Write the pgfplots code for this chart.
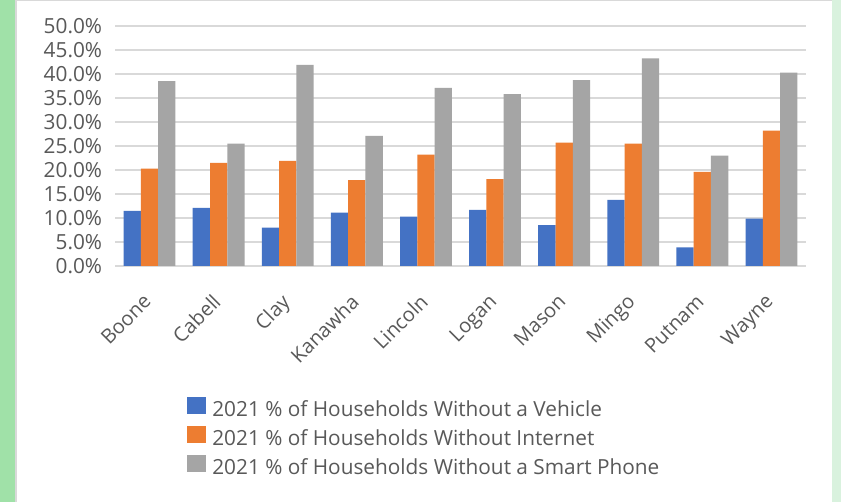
\documentclass[border=0pt]{standalone}
\usepackage{pgfplots}
\pgfplotsset{compat=1.18}
\usepackage{fontspec}
\setmainfont{Open Sans}
\definecolor{cblue}{HTML}{4472C4}
\definecolor{corange}{HTML}{ED7D31}
\definecolor{cgray}{HTML}{A5A5A5}
\definecolor{gridc}{HTML}{D9D9D9}
\definecolor{txt}{HTML}{595959}
\definecolor{lgreen}{HTML}{A0E1A8}
\definecolor{rgreen}{HTML}{D9F2DE}
\begin{document}
\begin{tikzpicture}
\useasboundingbox (0,0) rectangle (630.75pt,376.5pt);
\fill[white] (0,0) rectangle (630.75pt,376.5pt);
\fill[lgreen] (0,0) rectangle (11.25pt,376.5pt);
\fill[gridc] (11.25pt,0) rectangle (12.75pt,376.5pt);
\fill[rgreen] (624pt,0) rectangle (630.75pt,376.5pt);
\draw[gridc, line width=1pt] (12.75pt,376pt) -- (624pt,376pt);
\begin{axis}[
  at={(86.25pt,177pt)}, anchor=south west,
  scale only axis, width=518.25pt, height=180pt,
  xmin=-0.5, xmax=9.5, ymin=0, ymax=50,
  axis line style={draw=none},
  major tick length=0pt,
  ymajorgrids, major grid style={gridc, line width=1.1pt},
  ytick={0,5,...,50},
  yticklabels={0.0\%,5.0\%,10.0\%,15.0\%,20.0\%,25.0\%,30.0\%,35.0\%,40.0\%,45.0\%,50.0\%},
  xtick={0,...,9},
  xticklabels={Boone,Cabell,Clay,Kanawha,Lincoln,Logan,Mason,Mingo,Putnam,Wayne},
  tick label style={font=\fontsize{15.6}{18}\selectfont, text=txt},
  yticklabel style={anchor=east, inner sep=0pt, xshift=-9.5pt},
  xticklabel style={font=\fontsize{15}{18}\selectfont, xshift=-5.6pt, yshift=-19.9pt, rotate=45, anchor=north east, inner sep=0pt},
  ybar, bar width=0.25,
  legend cell align=left,
  legend style={at={(0.0975,-0.535)}, anchor=north west, draw=none, fill=none,
    font=\fontsize{15.6}{18}\selectfont, text=txt, row sep=4.2pt,
    nodes={inner sep=0pt, anchor=west, text height=10.5pt, text depth=3pt},
    /tikz/every odd column/.append style={column sep=5pt}},
  legend image code/.code={\fill[#1] (0pt,-2pt) rectangle (14.25pt,10.75pt);},
]
\addplot[fill=cblue, draw=none, bar shift=-0.25] coordinates {
(0,11.5) (1,12.1) (2,8.0) (3,11.1) (4,10.3) (5,11.7) (6,8.5) (7,13.8) (8,3.9) (9,9.85)};
\addplot[fill=corange, draw=none, bar shift=0] coordinates {
(0,20.3) (1,21.5) (2,21.9) (3,17.9) (4,23.2) (5,18.1) (6,25.7) (7,25.5) (8,19.6) (9,28.2)};
\addplot[fill=cgray, draw=none, bar shift=0.25] coordinates {
(0,38.5) (1,25.5) (2,41.9) (3,27.1) (4,37.1) (5,35.8) (6,38.75) (7,43.25) (8,23.0) (9,40.3)};
\legend{2021 \% of Households Without a Vehicle, 2021 \% of Households Without Internet, 2021 \% of Households Without a Smart Phone}
\end{axis}
\end{tikzpicture}
\end{document}
